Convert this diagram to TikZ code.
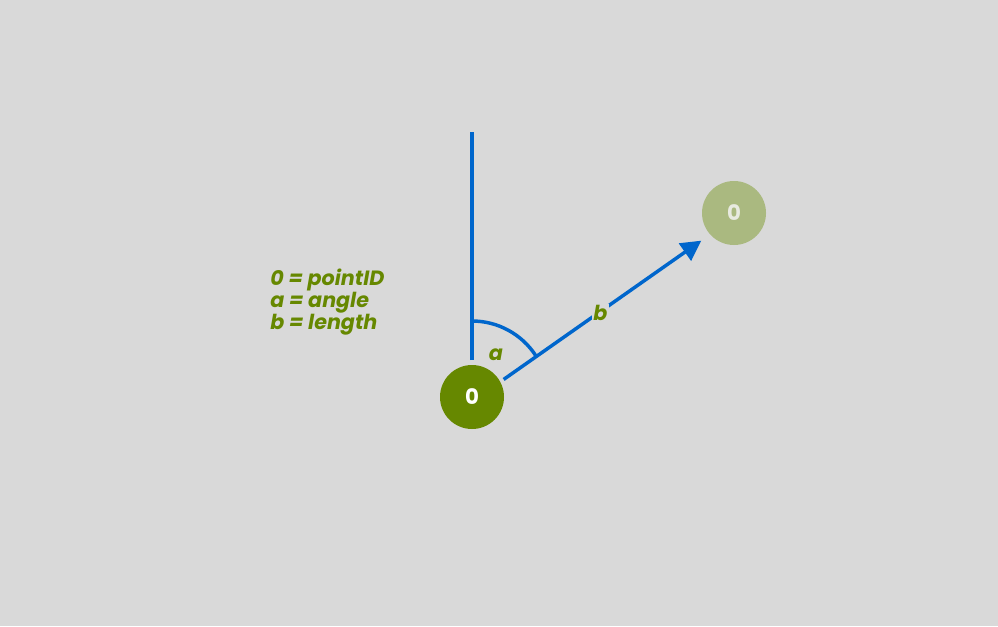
\documentclass[tikz,border=0pt]{standalone}
\usepackage{fontspec}
\setmainfont{Poppins}
\usetikzlibrary{arrows.meta}
\definecolor{bgcol}{RGB}{217,217,217}
\definecolor{leaf}{RGB}{102,136,0}
\definecolor{paleleaf}{RGB}{170,185,128}
\definecolor{paletext}{RGB}{232,234,224}
\definecolor{ray}{RGB}{0,102,204}
\begin{document}
\begin{tikzpicture}[x=0.75pt,y=0.75pt,
    point/.style={circle,minimum size=48pt,inner sep=0pt,font=\bfseries\fontsize{16}{18}\selectfont},
    legend/.style={text=leaf,font=\bfseries\itshape\fontsize{15.5}{16.5}\selectfont}]

      \fill[bgcol] (0,0) rectangle (998,626);
      \useasboundingbox (0,0) rectangle (998,626);

      \begin{scope}[every node/.style={point}]
        \node[fill=leaf,text=white] (src) at (472,229) {0};
        \node[fill=paleleaf,text=paletext] (dst) at (734,413) {0};
      \end{scope}

      \coordinate (top) at (472,494);
      \coordinate (bot) at (472,266);

      \begin{scope}[ray,line width=2.6pt]
        \draw (bot) -- (top);
        \draw ([yshift=57pt]src.center) arc[start angle=90,end angle=33,radius=76];
        \path ([yshift=-3.5pt]src.center) edge[-{Triangle[length=15pt,width=15.5pt]},shorten <=29pt,shorten >=30pt]
          node[legend,fill=bgcol,inner sep=1pt,pos=0.5,xshift=-2pt,yshift=-2.5pt] {b} ([yshift=-3.5pt]dst.center);
      \end{scope}

      \node[legend] (angle) at (496,271) {a};

      \node[legend,anchor=north west,align=left,inner sep=0pt] (key) at (270,357)
        {0 = pointID\\a = angle\\b = length};

    \end{tikzpicture}
\end{document}
